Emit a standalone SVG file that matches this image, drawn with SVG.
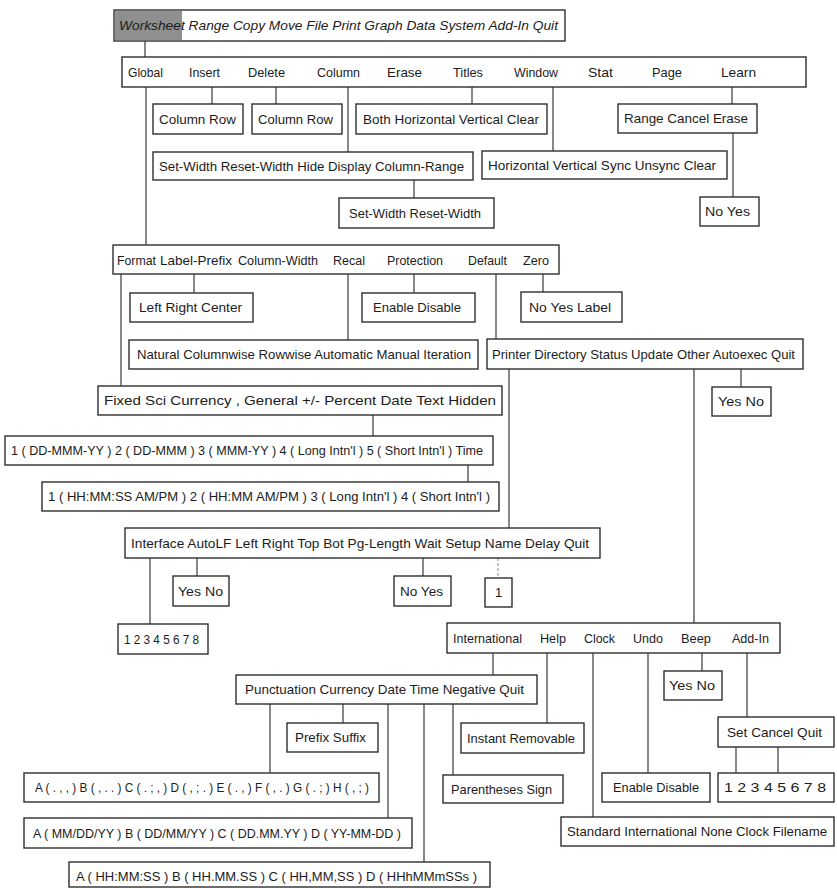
<svg xmlns="http://www.w3.org/2000/svg" width="837" height="888" viewBox="0 0 837 888">
  <style>
    .box { fill: #ffffff; stroke: #2e2e2e; stroke-width: 1.4; }
    .shade { fill: #8f8f8f; stroke: none; }
    .t { font-family: "Liberation Sans", Arial, sans-serif; font-size: 13px; fill: #1c1c1c; }
    .it { font-style: italic; }
    .c { stroke: #3a3a3a; stroke-width: 1.2; fill: none; }
    .faint { stroke: #8a8a8a; stroke-width: 1; stroke-dasharray: 3 2; fill: none; }
  </style>
  <rect width="837" height="888" fill="#ffffff"/>

  <!-- connectors -->
  <g id="connectors">
    <line class="c" x1="145" y1="41" x2="145" y2="57"/>
    <line class="c" x1="146" y1="87" x2="146" y2="245"/>
    <line class="c" x1="212" y1="87" x2="212" y2="104"/>
    <line class="c" x1="276" y1="87" x2="276" y2="104"/>
    <line class="c" x1="348" y1="87" x2="348" y2="152"/>
    <line class="c" x1="472" y1="87" x2="472" y2="104"/>
    <line class="c" x1="553" y1="87" x2="553" y2="151"/>
    <line class="c" x1="732" y1="87" x2="732" y2="104"/>
    <line class="c" x1="733" y1="133" x2="733" y2="197"/>
    <line class="c" x1="414" y1="180" x2="414" y2="198"/>
    <line class="c" x1="121" y1="274" x2="121" y2="386"/>
    <line class="c" x1="194" y1="274" x2="194" y2="293"/>
    <line class="c" x1="348" y1="274" x2="348" y2="340"/>
    <line class="c" x1="414" y1="274" x2="414" y2="293"/>
    <line class="c" x1="496" y1="274" x2="496" y2="339"/>
    <line class="c" x1="543" y1="274" x2="543" y2="292"/>
    <line class="c" x1="509" y1="369" x2="509" y2="528"/>
    <line class="c" x1="694" y1="369" x2="694" y2="623"/>
    <line class="c" x1="741" y1="369" x2="741" y2="387"/>
    <line class="c" x1="373" y1="415" x2="373" y2="436"/>
    <line class="c" x1="468" y1="465" x2="468" y2="482"/>
    <line class="c" x1="150" y1="558" x2="150" y2="624"/>
    <line class="c" x1="197" y1="558" x2="197" y2="576"/>
    <line class="c" x1="423" y1="558" x2="423" y2="576"/>
    <line class="faint" x1="498" y1="558" x2="498" y2="578"/>
    <line class="c" x1="493" y1="653" x2="493" y2="675"/>
    <line class="c" x1="547" y1="653" x2="547" y2="723"/>
    <line class="c" x1="593" y1="653" x2="593" y2="817"/>
    <line class="c" x1="648" y1="653" x2="648" y2="773"/>
    <line class="c" x1="702" y1="653" x2="702" y2="671"/>
    <line class="c" x1="747" y1="653" x2="747" y2="717"/>
    <line class="c" x1="270" y1="704" x2="270" y2="773"/>
    <line class="c" x1="343" y1="704" x2="343" y2="723"/>
    <line class="c" x1="388" y1="704" x2="388" y2="818"/>
    <line class="c" x1="424" y1="704" x2="424" y2="862"/>
    <line class="c" x1="453" y1="704" x2="453" y2="775"/>
    <line class="c" x1="736" y1="747" x2="736" y2="773"/>
    <line class="c" x1="778" y1="747" x2="778" y2="773"/>
  </g>

  <!-- main menu -->
  <g id="main-menu">
    <rect class="box" x="114" y="10" width="451" height="31"/>
    <rect class="shade" x="115" y="11" width="67" height="29"/>
    <text class="t it" x="119" y="30" textLength="439" lengthAdjust="spacingAndGlyphs">Worksheet Range Copy Move File Print Graph Data System Add-In Quit</text>
  </g>

  <g id="worksheet-menu">
    <rect class="box" x="122" y="57" width="684" height="30"/>
    <text class="t" x="128" y="77" textLength="35" lengthAdjust="spacingAndGlyphs">Global</text>
    <text class="t" x="189" y="77" textLength="31" lengthAdjust="spacingAndGlyphs">Insert</text>
    <text class="t" x="248" y="77" textLength="37" lengthAdjust="spacingAndGlyphs">Delete</text>
    <text class="t" x="317" y="77" textLength="43" lengthAdjust="spacingAndGlyphs">Column</text>
    <text class="t" x="387" y="77" textLength="35" lengthAdjust="spacingAndGlyphs">Erase</text>
    <text class="t" x="453" y="77" textLength="30" lengthAdjust="spacingAndGlyphs">Titles</text>
    <text class="t" x="514" y="77" textLength="44" lengthAdjust="spacingAndGlyphs">Window</text>
    <text class="t" x="588" y="77" textLength="25" lengthAdjust="spacingAndGlyphs">Stat</text>
    <text class="t" x="652" y="77" textLength="30" lengthAdjust="spacingAndGlyphs">Page</text>
    <text class="t" x="721" y="77" textLength="35" lengthAdjust="spacingAndGlyphs">Learn</text>
  </g>

  <g id="insert-menu">
    <rect class="box" x="153" y="104" width="90" height="30"/>
    <text class="t" x="159" y="124" textLength="77" lengthAdjust="spacingAndGlyphs">Column  Row</text>
  </g>
  <g id="delete-menu">
    <rect class="box" x="252" y="104" width="90" height="30"/>
    <text class="t" x="258" y="124" textLength="75" lengthAdjust="spacingAndGlyphs">Column  Row</text>
  </g>
  <g id="titles-menu">
    <rect class="box" x="356" y="104" width="191" height="30"/>
    <text class="t" x="363" y="124" textLength="176" lengthAdjust="spacingAndGlyphs">Both  Horizontal  Vertical  Clear</text>
  </g>
  <g id="learn-menu">
    <rect class="box" x="618" y="104" width="139" height="29"/>
    <text class="t" x="624" y="123" textLength="124" lengthAdjust="spacingAndGlyphs">Range  Cancel  Erase</text>
  </g>
  <g id="column-menu">
    <rect class="box" x="153" y="152" width="320" height="28"/>
    <text class="t" x="159" y="171" textLength="305" lengthAdjust="spacingAndGlyphs">Set-Width  Reset-Width  Hide  Display  Column-Range</text>
  </g>
  <g id="window-menu">
    <rect class="box" x="482" y="151" width="245" height="28"/>
    <text class="t" x="488" y="170" textLength="228" lengthAdjust="spacingAndGlyphs">Horizontal  Vertical  Sync  Unsync  Clear</text>
  </g>
  <g id="learn-erase-confirm">
    <rect class="box" x="700" y="197" width="59" height="29"/>
    <text class="t" x="705" y="216" textLength="45" lengthAdjust="spacingAndGlyphs">No  Yes</text>
  </g>
  <g id="column-range-menu">
    <rect class="box" x="339" y="198" width="155" height="30"/>
    <text class="t" x="349" y="218" textLength="132" lengthAdjust="spacingAndGlyphs">Set-Width  Reset-Width</text>
  </g>

  <!-- Global settings -->
  <g id="global-menu">
    <rect class="box" x="113" y="245" width="446" height="29"/>
    <text class="t" x="117" y="265" textLength="39" lengthAdjust="spacingAndGlyphs">Format</text>
    <text class="t" x="160" y="265" textLength="72" lengthAdjust="spacingAndGlyphs">Label-Prefix</text>
    <text class="t" x="238" y="265" textLength="80" lengthAdjust="spacingAndGlyphs">Column-Width</text>
    <text class="t" x="333" y="265" textLength="32" lengthAdjust="spacingAndGlyphs">Recal</text>
    <text class="t" x="387" y="265" textLength="56" lengthAdjust="spacingAndGlyphs">Protection</text>
    <text class="t" x="468" y="265" textLength="39" lengthAdjust="spacingAndGlyphs">Default</text>
    <text class="t" x="523" y="265" textLength="26" lengthAdjust="spacingAndGlyphs">Zero</text>
  </g>
  <g id="label-prefix-menu">
    <rect class="box" x="130" y="293" width="123" height="29"/>
    <text class="t" x="139" y="312" textLength="103" lengthAdjust="spacingAndGlyphs">Left  Right  Center</text>
  </g>
  <g id="protection-menu">
    <rect class="box" x="362" y="293" width="113" height="29"/>
    <text class="t" x="373" y="312" textLength="88" lengthAdjust="spacingAndGlyphs">Enable  Disable</text>
  </g>
  <g id="zero-menu">
    <rect class="box" x="521" y="292" width="101" height="30"/>
    <text class="t" x="529" y="312" textLength="82" lengthAdjust="spacingAndGlyphs">No  Yes  Label</text>
  </g>
  <g id="recal-menu">
    <rect class="box" x="129" y="340" width="349" height="29"/>
    <text class="t" x="137" y="359" textLength="334" lengthAdjust="spacingAndGlyphs">Natural  Columnwise  Rowwise  Automatic  Manual  Iteration</text>
  </g>
  <g id="default-menu">
    <rect class="box" x="487" y="339" width="316" height="30"/>
    <text class="t" x="492" y="359" textLength="303" lengthAdjust="spacingAndGlyphs">Printer  Directory  Status  Update  Other  Autoexec  Quit</text>
  </g>
  <g id="autoexec-menu">
    <rect class="box" x="712" y="387" width="59" height="29"/>
    <text class="t" x="718" y="406" textLength="46" lengthAdjust="spacingAndGlyphs">Yes  No</text>
  </g>

  <!-- Format -->
  <g id="format-menu">
    <rect class="box" x="98" y="386" width="404" height="29"/>
    <text class="t" x="104" y="405" textLength="392" lengthAdjust="spacingAndGlyphs">Fixed  Sci  Currency  ,  General  +/-  Percent  Date  Text  Hidden</text>
  </g>
  <g id="date-format-menu">
    <rect class="box" x="5" y="436" width="488" height="29"/>
    <text class="t" x="11" y="455" textLength="472" lengthAdjust="spacingAndGlyphs">1 ( DD-MMM-YY )  2 ( DD-MMM )  3 ( MMM-YY )  4 ( Long Intn'l )   5 ( Short Intn'l )  Time</text>
  </g>
  <g id="time-format-menu">
    <rect class="box" x="42" y="482" width="457" height="29"/>
    <text class="t" x="48" y="501" textLength="442" lengthAdjust="spacingAndGlyphs">1 ( HH:MM:SS AM/PM )  2 ( HH:MM AM/PM )  3 ( Long Intn'l )  4 ( Short Intn'l )</text>
  </g>

  <!-- Default Printer -->
  <g id="printer-menu">
    <rect class="box" x="125" y="528" width="475" height="30"/>
    <text class="t" x="131" y="548" textLength="458" lengthAdjust="spacingAndGlyphs">Interface  AutoLF  Left  Right  Top  Bot  Pg-Length  Wait  Setup  Name   Delay  Quit</text>
  </g>
  <g id="autolf-menu">
    <rect class="box" x="173" y="576" width="56" height="30"/>
    <text class="t" x="178" y="596" textLength="45" lengthAdjust="spacingAndGlyphs">Yes  No</text>
  </g>
  <g id="wait-menu">
    <rect class="box" x="394" y="576" width="57" height="30"/>
    <text class="t" x="400" y="596" textLength="43" lengthAdjust="spacingAndGlyphs">No  Yes</text>
  </g>
  <g id="name-menu">
    <rect class="box" x="485" y="578" width="27" height="29"/>
    <text class="t" x="498.5" y="597" text-anchor="middle">1</text>
  </g>
  <g id="interface-menu">
    <rect class="box" x="118" y="624" width="90" height="30"/>
    <text class="t" x="124" y="644" textLength="75" lengthAdjust="spacingAndGlyphs">1 2 3 4 5 6 7 8</text>
  </g>

  <!-- Default Other -->
  <g id="other-menu">
    <rect class="box" x="447" y="623" width="333" height="30"/>
    <text class="t" x="453" y="643" textLength="69" lengthAdjust="spacingAndGlyphs">International</text>
    <text class="t" x="540" y="643" textLength="26" lengthAdjust="spacingAndGlyphs">Help</text>
    <text class="t" x="584" y="643" textLength="31" lengthAdjust="spacingAndGlyphs">Clock</text>
    <text class="t" x="633" y="643" textLength="30" lengthAdjust="spacingAndGlyphs">Undo</text>
    <text class="t" x="681" y="643" textLength="30" lengthAdjust="spacingAndGlyphs">Beep</text>
    <text class="t" x="732" y="643" textLength="37" lengthAdjust="spacingAndGlyphs">Add-In</text>
  </g>
  <g id="beep-menu">
    <rect class="box" x="664" y="671" width="58" height="29"/>
    <text class="t" x="669" y="690" textLength="46" lengthAdjust="spacingAndGlyphs">Yes  No</text>
  </g>
  <g id="international-menu">
    <rect class="box" x="236" y="675" width="301" height="29"/>
    <text class="t" x="245" y="694" textLength="279" lengthAdjust="spacingAndGlyphs">Punctuation  Currency  Date  Time  Negative  Quit</text>
  </g>
  <g id="help-menu">
    <rect class="box" x="461" y="723" width="123" height="30"/>
    <text class="t" x="467" y="743" textLength="108" lengthAdjust="spacingAndGlyphs">Instant  Removable</text>
  </g>
  <g id="addin-menu">
    <rect class="box" x="718" y="717" width="116" height="30"/>
    <text class="t" x="727" y="737" textLength="95" lengthAdjust="spacingAndGlyphs">Set  Cancel  Quit</text>
  </g>
  <g id="currency-menu">
    <rect class="box" x="287" y="723" width="91" height="29"/>
    <text class="t" x="295" y="742" textLength="71" lengthAdjust="spacingAndGlyphs">Prefix  Suffix</text>
  </g>
  <g id="negative-menu">
    <rect class="box" x="443" y="775" width="120" height="28"/>
    <text class="t" x="451" y="794" textLength="101" lengthAdjust="spacingAndGlyphs">Parentheses  Sign</text>
  </g>
  <g id="undo-menu">
    <rect class="box" x="602" y="773" width="108" height="29"/>
    <text class="t" x="613" y="792" textLength="86" lengthAdjust="spacingAndGlyphs">Enable  Disable</text>
  </g>
  <g id="addin-set-menu">
    <rect class="box" x="718" y="773" width="116" height="29"/>
    <text class="t" x="724" y="792" textLength="102" lengthAdjust="spacingAndGlyphs">1  2  3  4  5  6  7  8</text>
  </g>
  <g id="clock-menu">
    <rect class="box" x="561" y="817" width="273" height="29"/>
    <text class="t" x="567" y="836" textLength="260" lengthAdjust="spacingAndGlyphs">Standard  International  None  Clock  Filename</text>
  </g>
  <g id="punctuation-menu">
    <rect class="box" x="24" y="773" width="355" height="29"/>
    <text class="t" x="35" y="792" textLength="334" lengthAdjust="spacingAndGlyphs">A ( . , , )  B ( , . . )  C ( . ; , )  D ( , ; . )  E ( . , )  F ( , . )  G ( . ; )  H ( , ; )</text>
  </g>
  <g id="date-intl-menu">
    <rect class="box" x="24" y="818" width="388" height="30"/>
    <text class="t" x="33" y="838" textLength="368" lengthAdjust="spacingAndGlyphs">A ( MM/DD/YY )  B ( DD/MM/YY )  C ( DD.MM.YY )  D ( YY-MM-DD )</text>
  </g>
  <g id="time-intl-menu">
    <rect class="box" x="69" y="862" width="421" height="25"/>
    <text class="t" x="76" y="881" textLength="401" lengthAdjust="spacingAndGlyphs">A ( HH:MM:SS )  B ( HH.MM.SS )  C ( HH,MM,SS )  D ( HHhMMmSSs )</text>
  </g>
</svg>
